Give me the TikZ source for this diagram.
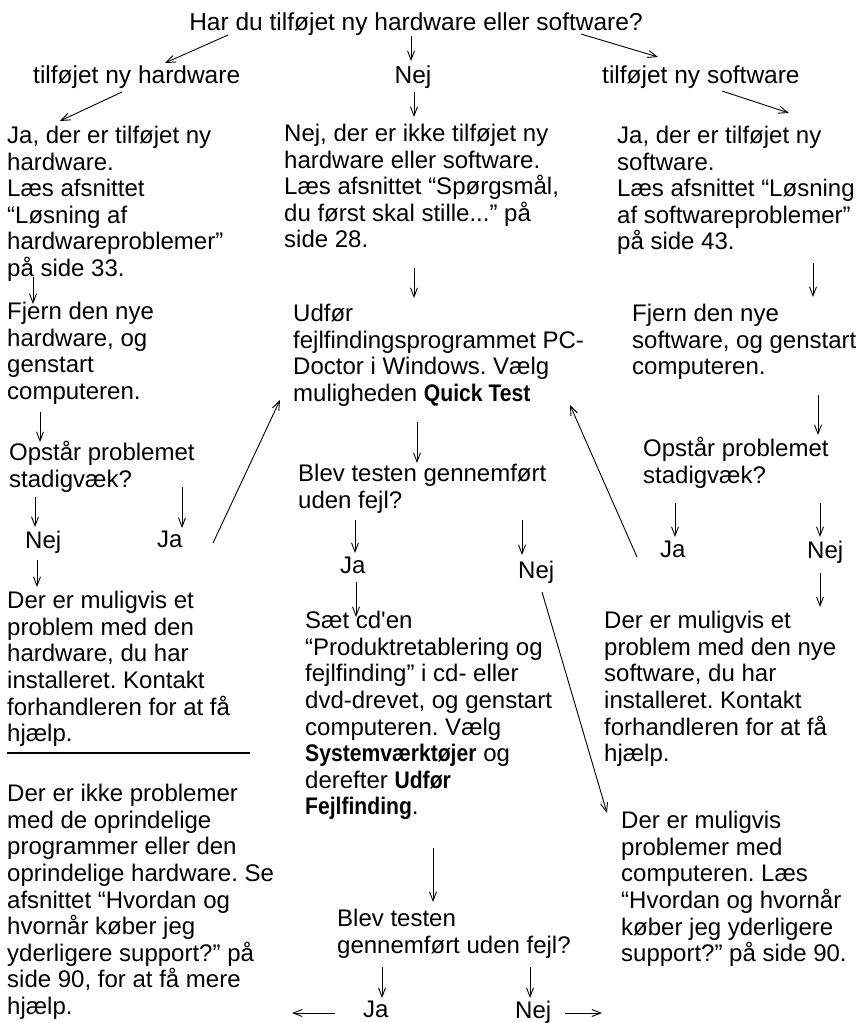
\documentclass[tikz,border=0pt]{standalone}
\usepackage{fontspec}
\setmainfont{Liberation Sans}[Ligatures=TeXOff]
\newfontfamily\condfam[FakeStretch=0.88]{Liberation Sans}
\newcommand{\knap}[1]{{\condfam\bfseries #1}}
\frenchspacing
\usetikzlibrary{arrows.meta,calc}
\tikzset{
	txt/.style={anchor=north west, align=left, inner sep=0pt, font=\fontsize{24}{26.6}\selectfont},
	lbl/.style={inner sep=0pt, font=\fontsize{24.5}{26.6}\selectfont},
	arr/.style={-{Straight Barb[length=9pt,width=7pt]}, line width=0.9pt},
}
\begin{document}
\begin{tikzpicture}[x=1pt,y=-1pt]
	\useasboundingbox (0,0) rectangle (867,1023);

	% question and the three answers
	\node[lbl, anchor=base] (title) at (416,30) {Har du tilføjet ny hardware eller software?};
	\node[lbl, anchor=base west] (lhw) at (33,83) {tilføjet ny hardware};
	\node[lbl, anchor=base] (nej0) at (413,83) {Nej};
	\node[lbl, anchor=base west] (lsw) at (602,83) {tilføjet ny software};

	% left column
	\node[txt] (hwyes) at (7,126) {Ja, der er tilføjet ny\\hardware.\\Læs afsnittet\\“Løsning af\\hardwareproblemer”\\på side 33.};
	\node[txt] (hwdel) at (7,302) {Fjern den nye\\hardware, og\\genstart\\computeren.};
	\node[txt] (hwq) at (9,441) {Opstår problemet\\stadigvæk?};
	\node[txt] (hwnej) at (25,531) {Nej};
	\node[txt] (hwja) at (157,531) {Ja};
	\node[txt] (hwprob) at (7,591) {Der er muligvis et\\problem med den\\hardware, du har\\installeret. Kontakt\\forhandleren for at få\\hjælp.};
	\node[txt] (hwok) at (7,784) {Der er ikke problemer\\med de oprindelige\\programmer eller den\\oprindelige hardware. Se\\afsnittet “Hvordan og\\hvornår køber jeg\\yderligere support?” på\\side 90, for at få mere\\hjælp.};

	% middle column
	\node[txt] (nejblk) at (284,124) {Nej, der er ikke tilføjet ny\\hardware eller software.\\Læs afsnittet “Spørgsmål,\\du først skal stille...” på\\side 28.};
	\node[txt] (pcdr) at (293,304) {Udfør\\fejlfindingsprogrammet PC-\\Doctor i Windows. Vælg\\muligheden \knap{Quick Test}};
	\node[txt] (test1) at (298,464) {Blev testen gennemført\\uden fejl?};
	\node[txt] (t1ja) at (340,557) {Ja};
	\node[txt] (t1nej) at (518,561) {Nej};
	\node[txt] (cdblk) at (305,611) {Sæt cd'en\\“Produktretablering og\\fejlfinding” i cd- eller\\dvd-drevet, og genstart\\computeren. Vælg\\\knap{Systemværktøjer} og\\derefter \knap{Udfør}\\\knap{Fejlfinding}.};
	\node[txt] (test2) at (337,909) {Blev testen\\gennemført uden fejl?};
	\node[txt] (t2ja) at (363,1001) {Ja};
	\node[txt] (t2nej) at (515,1001) {Nej};

	% right column
	\node[txt] (swyes) at (617,126) {Ja, der er tilføjet ny\\software.\\Læs afsnittet “Løsning\\af softwareproblemer”\\på side 43.};
	\node[txt] (swdel) at (632,304) {Fjern den nye\\software, og genstart\\computeren.};
	\node[txt] (swq) at (643,437) {Opstår problemet\\stadigvæk?};
	\node[txt] (swja) at (660,541) {Ja};
	\node[txt] (swnej) at (807,541) {Nej};
	\node[txt] (swprob) at (604,611) {Der er muligvis et\\problem med den nye\\software, du har\\installeret. Kontakt\\forhandleren for at få\\hjælp.};
	\node[txt] (pcprob) at (621,811) {Der er muligvis\\problemer med\\computeren. Læs\\“Hvordan og hvornår\\køber jeg yderligere\\support?” på side 90.};

	% arrows
	\draw[arr] ($(title.base)+(-188,5)$) -- ($(lhw.base west)+(132,-20)$);
	\draw[arr] ($(title.base)+(-5,6)$) -- ($(nej0.base)+(-2,-22)$);
	\draw[arr] ($(title.base)+(165,4)$) -- ($(lsw.base west)+(56,-26)$);
	\draw[arr] ($(lhw.base west)+(89,9)$) -- ($(hwyes.north west)+(53,-5)$);
	\draw[arr] ($(nej0.base)+(1,9)$) -- ($(nejblk.north west)+(130,-7)$);
	\draw[arr] ($(lsw.base west)+(120,8)$) -- ($(swyes.north west)+(172,-13)$);

	\draw[arr] ($(hwyes.north west)+(26,151)$) -- ($(hwdel.north west)+(26,2)$);
	\draw[arr] ($(hwdel.north west)+(33,110)$) -- ($(hwq.north west)+(31,1)$);
	\draw[arr] ($(hwq.north west)+(26,56)$) -- ($(hwnej.north west)+(10,-4)$);
	\draw[arr] ($(hwq.north west)+(173,46)$) -- ($(hwja.north west)+(25,-3)$);
	\draw[arr] ($(hwja.north west)+(56,12)$) -- ($(pcdr.north west)+(-13,96)$);
	\draw[arr] ($(hwnej.north west)+(12,29)$) -- ($(hwprob.north west)+(30,-4)$);
	\draw[line width=1.6pt] ($(hwprob.north west)+(0,162)$) -- ++(243,0);

	\draw[arr] ($(nejblk.north west)+(130,144)$) -- ($(pcdr.north west)+(121,-6)$);
	\draw[arr] ($(pcdr.north west)+(124,118)$) -- ($(test1.north west)+(119,-1)$);
	\draw[arr] ($(test1.north west)+(57,56)$) -- ($(t1ja.north west)+(15,-4)$);
	\draw[arr] ($(test1.north west)+(224,56)$) -- ($(t1nej.north west)+(4,-6)$);
	\draw[arr] ($(t1ja.north west)+(16,25)$) -- ($(cdblk.north west)+(51,6)$);
	\draw[arr] ($(t1nej.north west)+(24,31)$) -- ($(pcprob.north west)+(-14,2)$);
	\draw[arr] ($(cdblk.north west)+(128,237)$) -- ($(test2.north west)+(96,-7)$);
	\draw[arr] ($(test2.north west)+(45,58)$) -- ($(t2ja.north west)+(19,-3)$);
	\draw[arr] ($(test2.north west)+(193,58)$) -- ($(t2nej.north west)+(15,-3)$);
	\draw[arr] ($(t2ja.north west)+(-28,12)$) -- ++(-43,0);
	\draw[arr] ($(t2nej.north west)+(50,12)$) -- ++(37,0);

	\draw[arr] ($(swyes.north west)+(196,137)$) -- ($(swdel.north west)+(181,-7)$);
	\draw[arr] ($(swdel.north west)+(186,91)$) -- ($(swq.north west)+(175,-2)$);
	\draw[arr] ($(swq.north west)+(32,66)$) -- ($(swja.north west)+(15,-4)$);
	\draw[arr] ($(swq.north west)+(177,66)$) -- ($(swnej.north west)+(13,-4)$);
	\draw[arr] ($(swja.north west)+(-23,16)$) -- ($(pcdr.north west)+(277,101)$);
	\draw[arr] ($(swnej.north west)+(13,32)$) -- ($(swprob.north west)+(216,-4)$);
\end{tikzpicture}
\end{document}
